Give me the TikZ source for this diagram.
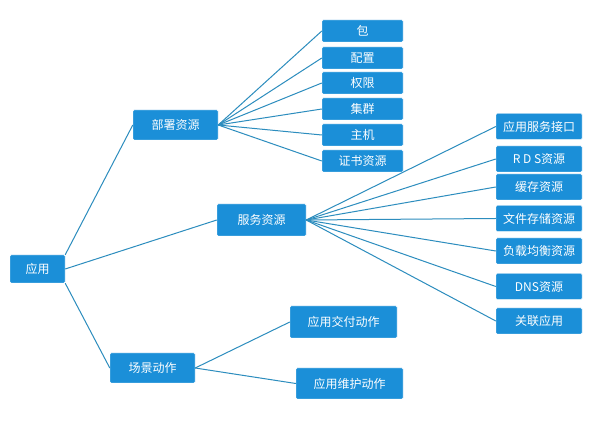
\documentclass[tikz,border=0pt]{standalone}
\usepackage{fontspec}
\setmainfont{Noto Sans CJK SC}
\begin{document}
\begin{tikzpicture}[x=1pt,y=-1pt,
 box/.style={draw=white,fill=boxblue,text=white,font=\fontsize{12}{14}\selectfont,inner sep=0pt,rounded corners=1pt},
 ln/.style={draw=linec,line width=1pt}]
\definecolor{boxblue}{HTML}{1B8FD8}
\definecolor{linec}{HTML}{2C8DBE}
\useasboundingbox[fill=white] (0,0) rectangle (616,435);
\newcommand{\bx}[6]{\node[box,minimum width=#4,minimum height=#5] (#1) at (#2,#3) {#6};}
\bx{app}{37.5}{269}{55pt}{28pt}{应用}
\bx{dep}{175.5}{125}{85pt}{30pt}{部署资源}
\bx{svc}{261.5}{220}{89pt}{32pt}{服务资源}
\bx{scn}{152.5}{368}{85pt}{30pt}{场景动作}
\foreach \n/\y/\t in {a/31/包,b/58/配置,c/83/权限,d/109/集群,e/135/主机,f/161/证书资源}
 {\bx{\n}{362.5}{\y}{81pt}{22pt}{\t}}
\foreach \n/\y/\t in {s1/126.5/应用服务接口,s2/159/R D S资源,s3/187/缓存资源,s4/218.5/文件存储资源,s5/251/负载均衡资源,s6/286.5/DNS资源,s7/321/关联应用}
 {\bx{\n}{539}{\y}{86pt}{26pt}{\t}}
\bx{x1}{343.5}{322}{107pt}{32pt}{应用交付动作}
\bx{x2}{349.5}{383.5}{107pt}{31pt}{应用维护动作}
\draw[ln] (app.north east) -- (dep.west);
\draw[ln] (app.east) -- (svc.west);
\draw[ln] (app.south east) -- (scn.west);
\foreach \n in {a,b,c,d,e,f} \draw[ln] (dep.east) -- (\n.west);
\foreach \n in {s1,s2,s3,s4,s5,s6,s7} \draw[ln] (svc.east) -- (\n.west);
\draw[ln] (scn.east) -- (x1.west);
\draw[ln] (scn.east) -- (x2.west);
\end{tikzpicture}
\end{document}
